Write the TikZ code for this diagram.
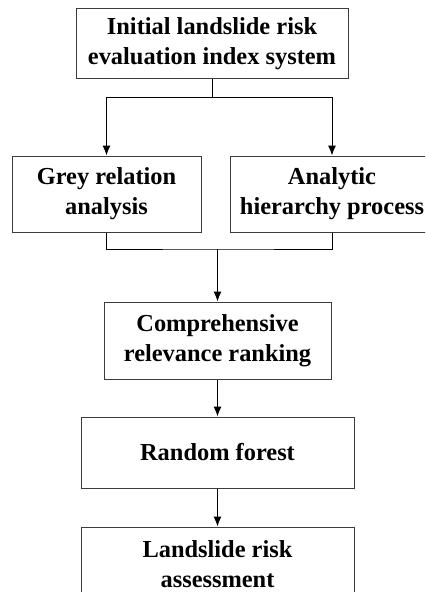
\documentclass[tikz,border=0pt]{standalone}
\usepackage{fontspec}
\setmainfont{Liberation Serif}
\usetikzlibrary{arrows.meta}

\tikzset{
  stagebox/.style={draw={rgb,255:red,60;green,60;blue,60}, line width=0.75pt, align=center, inner sep=0pt,
    font=\fontsize{18.3}{22.5}\selectfont\bfseries},
  flowline/.style={line width=0.75pt},
  flowarrow/.style={flowline, -{Latex[length=7.5pt,width=6pt]}}
}

\begin{document}
\begin{tikzpicture}[x=0.75pt,y=0.75pt,yscale=-1,xscale=1]
    \useasboundingbox (0,0) rectangle (425,592);
    \clip (0,0) rectangle (425,592);

    %Shape: Rectangle [id:init]
    \node [stagebox, minimum width=204pt, minimum height=52.5pt] (init) at (212,44) {Initial landslide risk\\evaluation index system};
    %Shape: Rectangle [id:grey]
    \node [stagebox, minimum width=141.75pt, minimum height=57pt] (grey) at (106.5,194) {Grey relation\\analysis};
    %Shape: Rectangle [id:ahp]
    \node [stagebox, minimum width=153pt, minimum height=57pt] (ahp) at (332,194) {Analytic\\hierarchy process};
    %Shape: Rectangle [id:rank]
    \node [stagebox, minimum width=170.25pt, minimum height=57.75pt] (rank) at (217.5,340.5) {Comprehensive\\relevance ranking};
    %Shape: Rectangle [id:rf]
    \node [stagebox, minimum width=204.75pt, minimum height=53.25pt] (rf) at (217.5,452.5) {Random forest};
    %Shape: Rectangle [id:assess]
    \node [stagebox, minimum width=204.75pt, minimum height=56.25pt] (assess) at (217.5,564.5) {Landslide risk\\assessment};

    % split and merge points
    \coordinate (split) at (212,97);
    \coordinate (merge) at (217.5,249);

    %Straight Lines
    \draw [flowline] (init.south) -- (split);
    \draw [flowarrow] (split) -| (grey.north);
    \draw [flowarrow] (split) -| (ahp.north);
    \draw [flowline] (grey.south) |- (merge) -| (ahp.south);
    \draw [flowarrow] (merge) -- (rank.north);
    \draw [flowarrow] (rank.south) -- (rf.north);
    \draw [flowarrow] (rf.south) -- (assess.north);

\end{tikzpicture}
\end{document}
